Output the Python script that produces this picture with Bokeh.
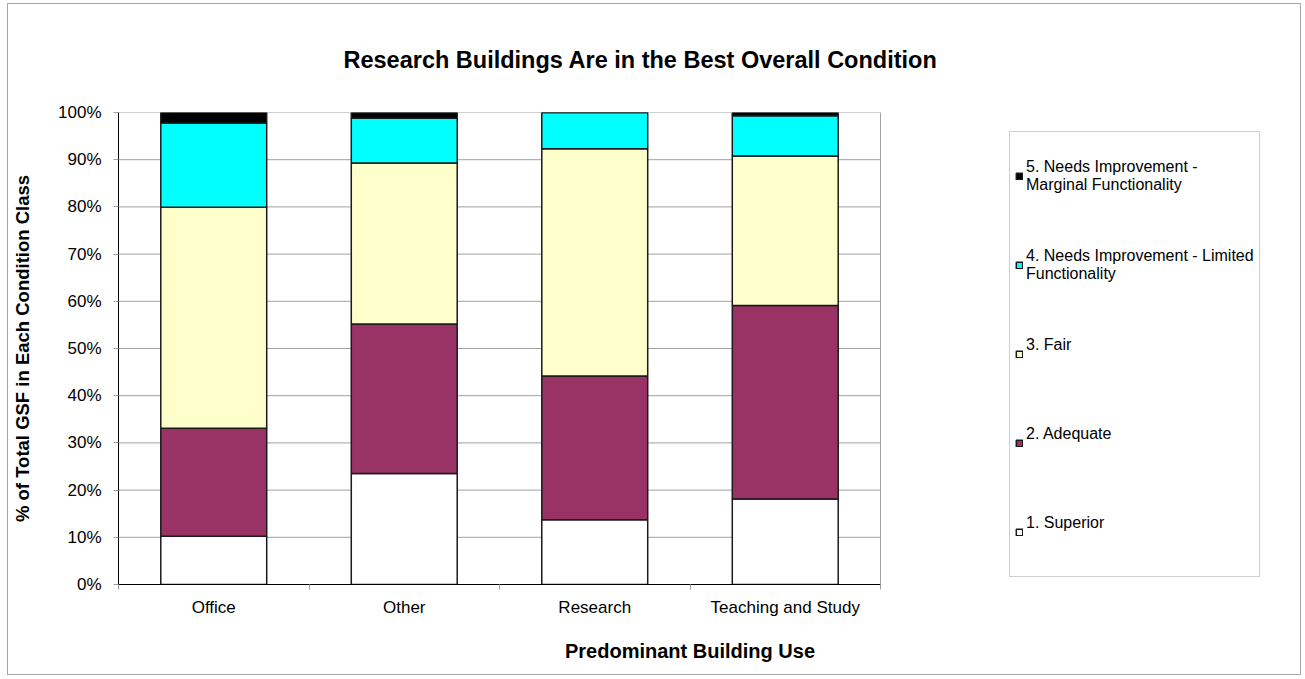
from bokeh.plotting import figure
from bokeh.models import (Range1d, FixedTicker, LinearAxis, PrintfTickFormatter,
                          Legend, LegendItem, ColumnDataSource)
from bokeh.embed import file_html
from bokeh.resources import INLINE

categories = ["Office", "Other", "Research", "Teaching and Study"]
superior = [10.2, 23.5, 13.7, 18.1]
adequate = [22.9, 31.7, 30.5, 41.0]
fair = [46.8, 34.1, 48.1, 31.7]
limited = [17.9, 9.5, 7.7, 8.5]
marginal = [2.2, 1.2, 0.0, 0.7]

series_keys = ["superior", "adequate", "fair", "limited", "marginal"]
series_labels = ["1. Superior\n ", "2. Adequate\n ", "3. Fair\n ",
                 "4. Needs Improvement - Limited\nFunctionality",
                 "5. Needs Improvement -\nMarginal Functionality"]
series_colors = ["#FFFFFF", "#993366", "#FFFFCC", "#00FFFF", "#000000"]
y_ticks = [0, 10, 20, 30, 40, 50, 60, 70, 80, 90, 100]

FONT = "Liberation Sans"
GRID = "#a0a0a0"

n = len(categories)
xpos = [i + 0.5 for i in range(n)]
bounds = list(range(n + 1))
source = ColumnDataSource(dict(x=xpos, cat=categories, superior=superior, adequate=adequate,
                               fair=fair, limited=limited, marginal=marginal))

# x range extends past the category area to leave room for the legend
p = figure(width=1294, height=672, x_range=Range1d(0, n + 2), y_range=Range1d(0, 100),
           x_axis_location=None, output_backend="svg", toolbar_location=None,
           min_border_left=110, min_border_top=108, min_border_right=41, min_border_bottom=92)
p.styles = {"border": "1px solid #a6a6a6", "margin-left": "7px", "margin-top": "3px"}

# grid lines and plot-area border limited to the category area
grid_y = y_ticks[1:]
p.segment(x0=[0] * len(grid_y), x1=[n] * len(grid_y), y0=grid_y, y1=grid_y,
          line_color=GRID, line_width=1)
p.segment(x0=[n], x1=[n], y0=[y_ticks[0]], y1=[y_ticks[-1]], line_color=GRID, line_width=1)

renderers = p.vbar_stack(series_keys, x="x", width=0.556, source=source,
                         fill_color=series_colors, line_color="#1a1a1a", line_width=1.5)

# title
p.title.text = "Research Buildings Are in the Best Overall Condition"
p.title.text_font = FONT
p.title.text_font_size = "23.5px"
p.title.text_font_style = "bold"
p.title.text_color = "#000000"
p.title.align = "left"
p.title.offset = 225
p.title.standoff = 80

# y axis
yt = FixedTicker(ticks=y_ticks)
yax = p.yaxis[0]
yax.ticker = yt
yax.formatter = PrintfTickFormatter(format="%d%%")
yax.major_label_text_font = FONT
yax.major_label_text_font_size = "17px"
yax.major_label_text_color = "#000000"
yax.major_tick_out = 5
yax.major_tick_in = 0
yax.minor_tick_line_color = None
yax.major_tick_line_color = GRID
yax.axis_line_color = "#000000"
yax.major_label_standoff = 12
yax.axis_label = "% of Total GSF in Each Condition Class"
yax.axis_label_text_font = FONT
yax.axis_label_text_font_size = "18.5px"
yax.axis_label_text_font_style = "bold"
yax.axis_label_text_color = "#000000"
yax.axis_label_standoff = 22

p.xgrid.visible = False
p.ygrid.visible = False
p.outline_line_color = None

# x axis: labels at bar centres, small ticks at category boundaries
xax = LinearAxis(ticker=FixedTicker(ticks=xpos, minor_ticks=bounds),
                 major_label_overrides={x: c for x, c in zip(xpos, categories)},
                 bounds=(0, n))
xax.axis_line_color = "#000000"
xax.major_tick_line_color = None
xax.major_tick_out = 0
xax.major_tick_in = 0
xax.minor_tick_line_color = GRID
xax.minor_tick_out = 5
xax.minor_tick_in = 0
xax.major_label_text_font = FONT
xax.major_label_text_font_size = "17px"
xax.major_label_text_color = "#000000"
xax.major_label_standoff = 8
xax.axis_label = "Predominant Building Use"
xax.axis_label_text_font = FONT
xax.axis_label_text_font_size = "20px"
xax.axis_label_text_font_style = "bold"
xax.axis_label_text_color = "#000000"
xax.axis_label_standoff = 20
p.add_layout(xax, "below")

# legend
items = [LegendItem(label=series_labels[i], renderers=[renderers[i]]) for i in reversed(range(5))]
legend = Legend(items=items, location=(891, 7))
legend.label_text_font = FONT
legend.label_text_font_size = "16px"
legend.label_text_color = "#000000"
legend.glyph_width = 8
legend.glyph_height = 8
legend.label_standoff = 3
legend.padding = 5
legend.spacing = 11
legend.label_height = 78
legend.label_width = 226
legend.border_line_color = GRID
legend.border_line_width = 1
legend.background_fill_color = "#FFFFFF"
legend.background_fill_alpha = 1
p.add_layout(legend)

open("out.html", "w").write(file_html(p, INLINE))
